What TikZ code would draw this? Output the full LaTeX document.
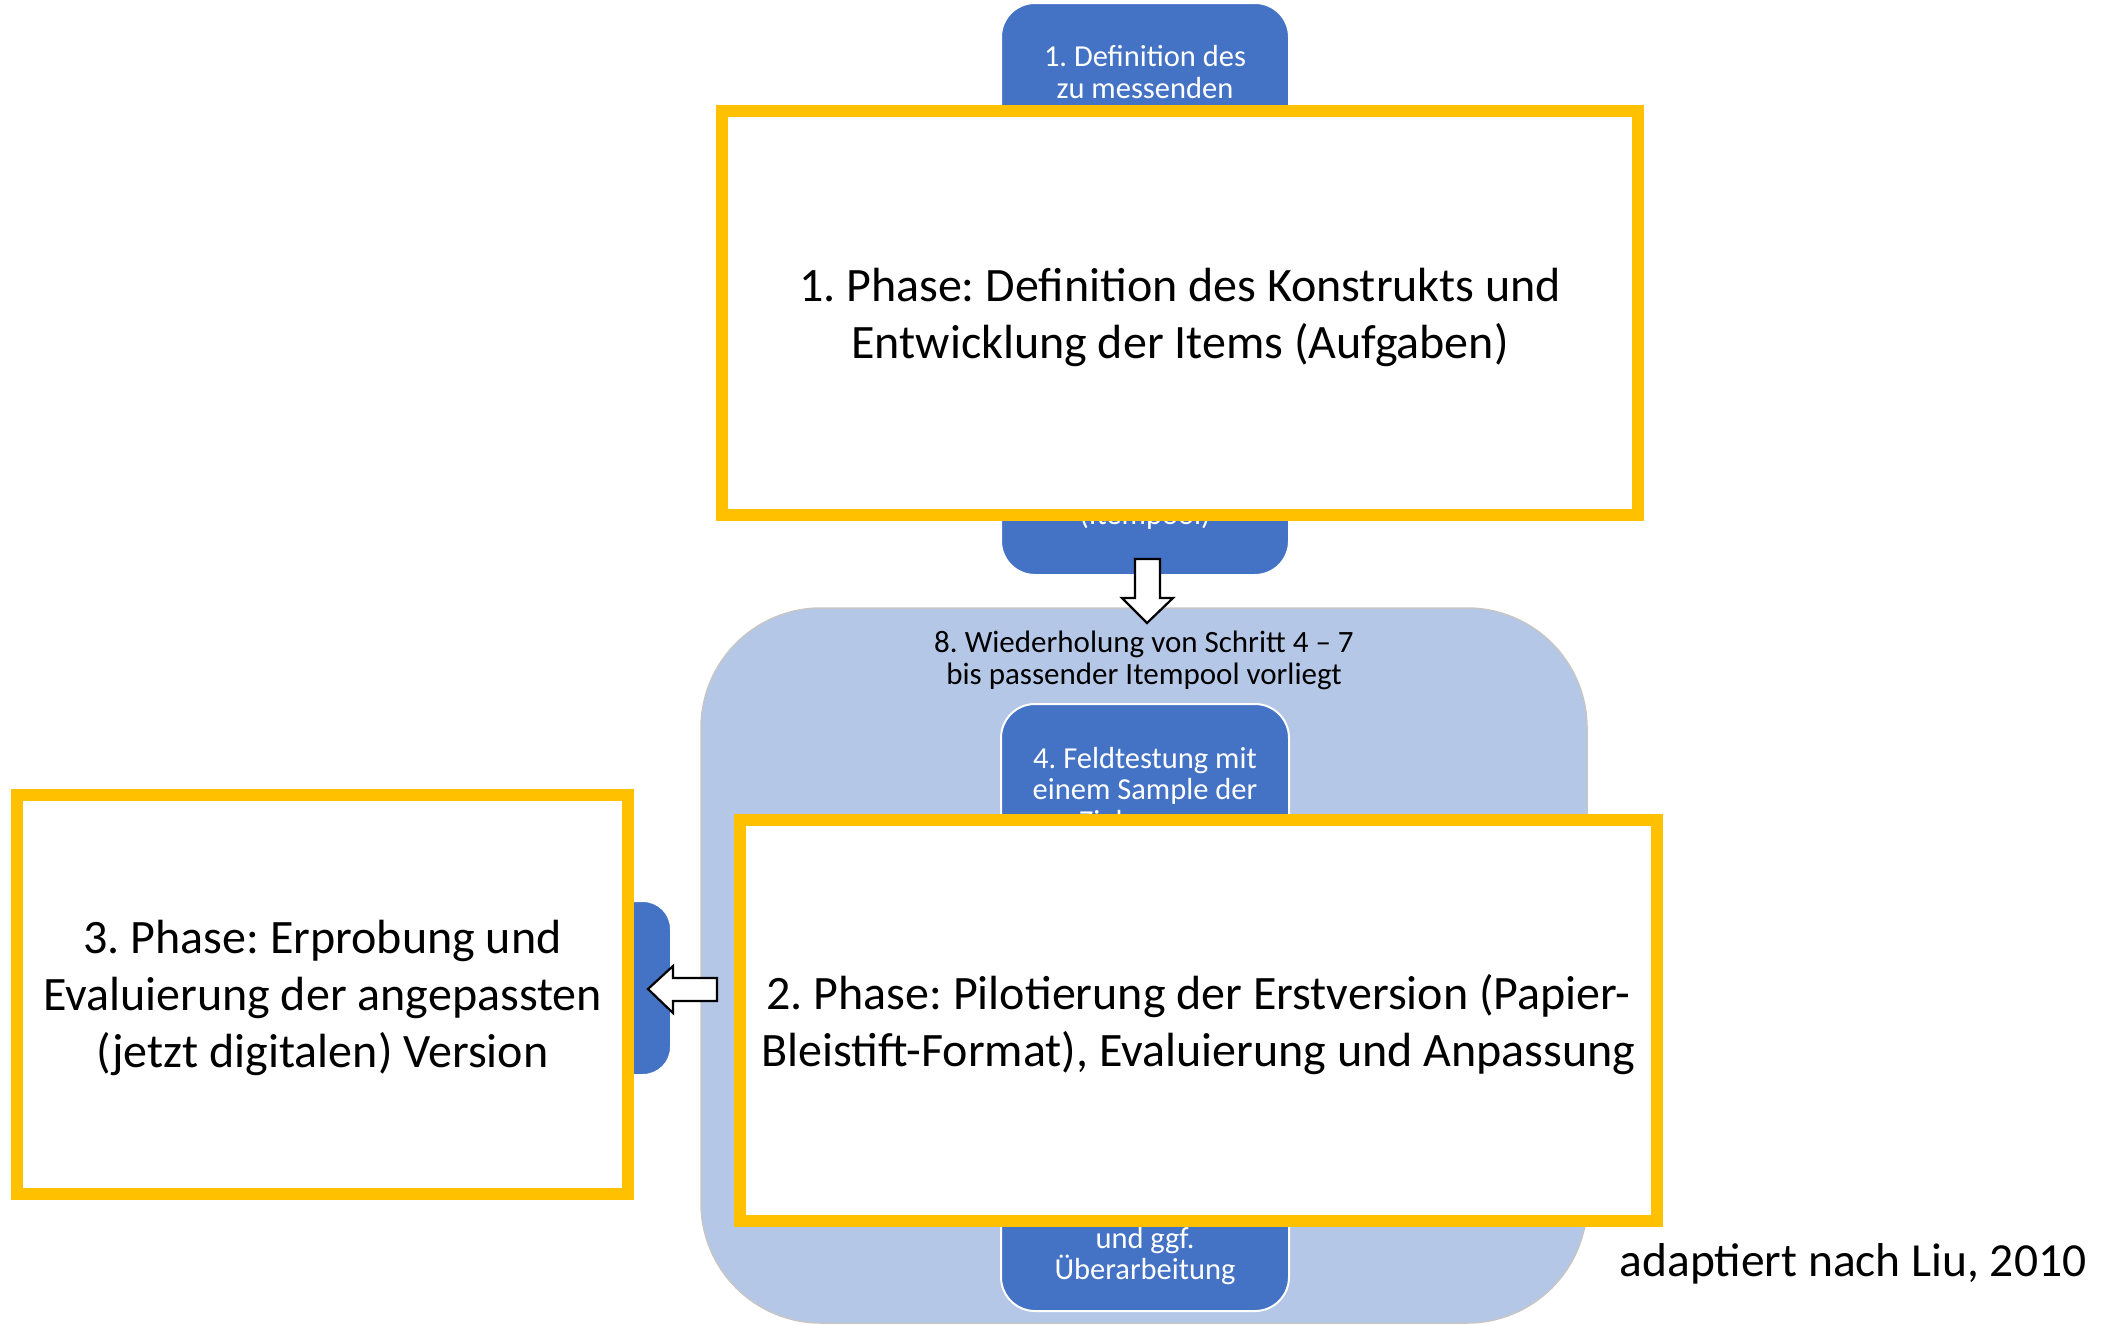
\documentclass[tikz,border=0pt]{standalone}
\usepackage{fontspec}
\setmainfont{Carlito}
\definecolor{dblue}{HTML}{4472C4}
\definecolor{lblue}{HTML}{B4C7E7}
\definecolor{phaseyellow}{HTML}{FFC000}
\tikzset{
  bigbox/.style={fill=lblue, draw=gray!45, line width=1.5pt, rounded corners=120pt},
  stepbox/.style={fill=dblue, draw=white, line width=2pt, rounded corners=34pt},
  steptext/.style={text=white, align=center, font=\fontsize{30.5}{31.5}\selectfont\frenchspacing},
  looptext/.style={text=black, align=center, font=\fontsize{31}{32}\selectfont\frenchspacing},
  blockarrow/.style={fill=white, draw=black, line width=2.2pt, line join=miter},
  phasebox/.style={draw=phaseyellow, fill=white, line width=12pt, inner sep=0pt},
  phasetext/.style={align=center, inner sep=0pt, font=\fontsize{48}{57}\selectfont\frenchspacing},
  sourcetext/.style={font=\fontsize{47.5}{56}\selectfont\frenchspacing, inner sep=0pt}
}
\begin{document}
\begin{tikzpicture}[x=1pt,y=-1pt]
\useasboundingbox (0,0) rectangle (2123,1325);

% large loop container
\draw[bigbox] (701,608) rectangle (1587,1323);
\node[looptext] (t8) at (1144,660) {8. Wiederholung von Schritt 4 – 7\\bis passender Itempool vorliegt};

% step boxes
\draw[stepbox] (1001,704) rectangle (1289,1311);
\node[steptext] (t4) at (1145,792) {4. Feldtestung mit\\einem Sample der\\Zielgruppe};
\node[steptext] (t7) at (1145,1256) {und ggf.\\Überarbeitung};

\draw[stepbox] (1001,3) rectangle (1289,575);
\node[steptext] (t1) at (1145,72) {1. Definition des\\zu messenden};
\node[steptext] (t3) at (1145,516) {(Itempool)};

\draw[stepbox, rounded corners=28pt] (520,901) rectangle (671,1075);

% block arrows
\draw[blockarrow] (1135,559) -- (1160,559) -- (1160,598) -- (1173,598) -- (1147,623) -- (1122,598) -- (1135,598) -- cycle;
\draw[blockarrow] (648,989) -- (673,966) -- (673,978) -- (717,978) -- (717,1001) -- (673,1001) -- (673,1013) -- cycle;

% phase frames
\node[phasebox, minimum width=916pt, minimum height=404pt] (p1) at (1180,313) {};
\node[phasetext] (p1t) at ([yshift=-4pt]p1.center)
  {1. Phase: Definition des Konstrukts und\\Entwicklung der Items (Aufgaben)};
\node[phasebox, minimum width=917pt, minimum height=401pt] (p2) at (1198.5,1020.5) {};
\node[phasetext] (p2t) at ([yshift=-4pt]p2.center)
  {2. Phase: Pilotierung der Erstversion (Papier-\\Bleistift-Format), Evaluierung und Anpassung};
\node[phasebox, minimum width=611pt, minimum height=399pt] (p3) at (322.5,994.5) {};
\node[phasetext] (p3t) at ([yshift=-3pt]p3.center)
  {3. Phase: Erprobung und\\Evaluierung der angepassten\\(jetzt digitalen) Version};

\node[sourcetext] (src) at (1853,1264) {adaptiert nach Liu, 2010};
\end{tikzpicture}
\end{document}
